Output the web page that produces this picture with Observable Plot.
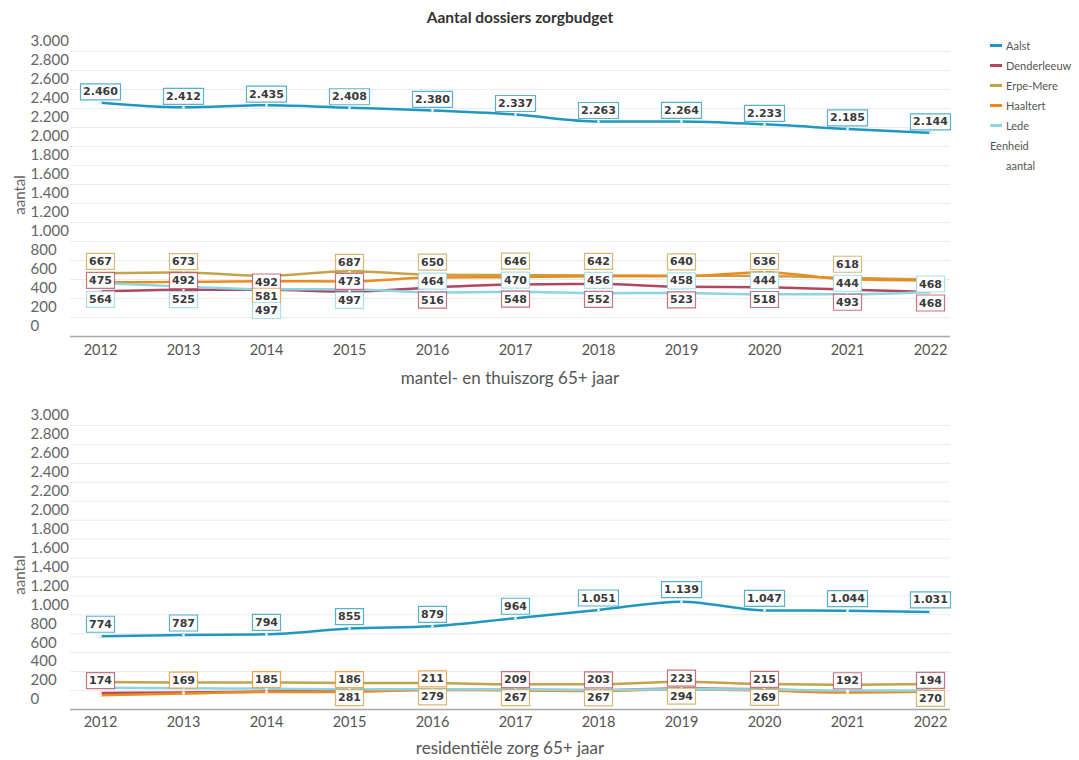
<!DOCTYPE html>
<html>
<head>
<meta charset="utf-8">
<script src="https://cdn.jsdelivr.net/npm/d3@7"></script>
<script src="https://cdn.jsdelivr.net/npm/@observablehq/plot@0.6"></script>
<style>
  body { margin: 0; background: #fff; width: 1079px; height: 760px; position: relative; overflow: hidden; font-family: Lato, "Open Sans", sans-serif; }
  #title { position: absolute; left: 0; width: 1040px; top: 8px; text-align: center; font-weight: bold; font-size: 15.5px; color: #333; }
  .panel { position: absolute; left: 0; }
  #p1 { top: 30px; }
  #p2 { top: 400px; }
  .ylab { position: absolute; font-size: 15px; color: #666; transform: rotate(-90deg); transform-origin: center; width: 60px; text-align: center; }
  .xlab { position: absolute; left: 70px; width: 880px; text-align: center; font-size: 17px; color: #555; }
  #legend { position: absolute; left: 990px; top: 35px; font-size: 11px; color: #555; }
  #legend .it { height: 20px; display: flex; align-items: center; }
  #legend .sw { width: 12px; height: 3px; margin-right: 4px; display: inline-block; }
</style>
</head>
<body>
<div id="title">Aantal dossiers zorgbudget</div>
<div id="p1" class="panel"></div>
<div id="p2" class="panel"></div>
<div class="ylab" style="left:-11px; top:186px;">aantal</div>
<div class="ylab" style="left:-11px; top:566px;">aantal</div>
<div class="xlab" style="top:367px;">mantel- en thuiszorg 65+ jaar</div>
<div class="xlab" style="top:737px;">residentiële zorg 65+ jaar</div>
<div id="legend"></div>
<script>
// ---------- data ----------
const years = [2012, 2013, 2014, 2015, 2016, 2017, 2018, 2019, 2020, 2021, 2022];
const seriesNames = ["Aalst", "Denderleeuw", "Erpe-Mere", "Haaltert", "Lede"];
const seriesColors = ["#1f97bf", "#b3475c", "#c6a24a", "#ec8a20", "#8dd5e5"];
const yTicks = [0, 200, 400, 600, 800, 1000, 1200, 1400, 1600, 1800, 2000, 2200, 2400, 2600, 2800, 3000];

// mantel- en thuiszorg 65+ jaar
const thuisAalst       = [2460, 2412, 2435, 2408, 2380, 2337, 2263, 2264, 2233, 2185, 2144];
const thuisDenderleeuw = [475, 492, 492, 473, 516, 548, 552, 523, 518, 493, 468];
const thuisErpeMere    = [667, 673, 640, 687, 650, 646, 642, 640, 636, 618, 600];
const thuisHaaltert    = [570, 575, 581, 580, 620, 625, 633, 633, 676, 602, 590];
const thuisLede        = [564, 525, 497, 497, 464, 470, 456, 458, 444, 444, 468];

// residentiële zorg 65+ jaar
const resAalst       = [774, 787, 794, 855, 879, 964, 1051, 1139, 1047, 1044, 1031];
const resDenderleeuw = [174, 180, 190, 200, 205, 209, 203, 223, 215, 192, 194];
const resErpeMere    = [290, 285, 285, 281, 279, 267, 267, 294, 269, 262, 270];
const resHaaltert    = [150, 169, 185, 186, 211, 200, 195, 215, 200, 180, 190];
const resLede        = [230, 225, 220, 215, 215, 210, 205, 215, 210, 200, 200];

// which small-series labels are shown (series, year, row in the label stack)
const thuisLabels = [
  ["Erpe-Mere", 2012, 0], ["Denderleeuw", 2012, 1], ["Lede", 2012, 2],
  ["Erpe-Mere", 2013, 0], ["Denderleeuw", 2013, 1], ["Lede", 2013, 2],
  ["Denderleeuw", 2014, 1], ["Haaltert", 2014, 1.75], ["Lede", 2014, 2.5],
  ["Erpe-Mere", 2015, 0], ["Denderleeuw", 2015, 1], ["Lede", 2015, 2],
  ["Erpe-Mere", 2016, 0], ["Lede", 2016, 1], ["Denderleeuw", 2016, 2],
  ["Erpe-Mere", 2017, 0], ["Lede", 2017, 1], ["Denderleeuw", 2017, 2],
  ["Erpe-Mere", 2018, 0], ["Lede", 2018, 1], ["Denderleeuw", 2018, 2],
  ["Erpe-Mere", 2019, 0], ["Lede", 2019, 1], ["Denderleeuw", 2019, 2],
  ["Erpe-Mere", 2020, 0], ["Lede", 2020, 1], ["Denderleeuw", 2020, 2],
  ["Erpe-Mere", 2021, 0], ["Lede", 2021, 1], ["Denderleeuw", 2021, 2],
  ["Lede", 2022, 1], ["Denderleeuw", 2022, 2]
];
const resLabels = [
  ["Denderleeuw", 2012, 0], ["Haaltert", 2013, 0], ["Haaltert", 2014, 0],
  ["Haaltert", 2015, 0], ["Erpe-Mere", 2015, 1],
  ["Haaltert", 2016, 0], ["Erpe-Mere", 2016, 1],
  ["Denderleeuw", 2017, 0], ["Erpe-Mere", 2017, 1],
  ["Denderleeuw", 2018, 0], ["Erpe-Mere", 2018, 1],
  ["Denderleeuw", 2019, 0], ["Erpe-Mere", 2019, 1],
  ["Denderleeuw", 2020, 0], ["Erpe-Mere", 2020, 1],
  ["Denderleeuw", 2021, 0],
  ["Denderleeuw", 2022, 0], ["Erpe-Mere", 2022, 1]
];

// ---------- build ----------
const fmt = d3.formatLocale({decimal: ",", thousands: ".", grouping: [3], currency: ["€", ""]}).format(",");

function toRows(arrs) {
  const rows = [];
  seriesNames.forEach((s, i) => arrs[i].forEach((v, j) => rows.push({series: s, year: years[j], value: v})));
  return rows;
}
const thuisRows = toRows([thuisAalst, thuisDenderleeuw, thuisErpeMere, thuisHaaltert, thuisLede]);
const resRows = toRows([resAalst, resDenderleeuw, resErpeMere, resHaaltert, resLede]);

function rectSymbol(w, h) {
  return {draw(ctx) { ctx.rect(-w / 2, -h / 2, w, h); }};
}

function panel(rows, labels, cfg) {
  const k = (cfg.height - cfg.mt - cfg.mb) / 3000; // px per unit
  const means = d3.rollup(rows.filter(d => d.series !== "Aalst"), v => d3.mean(v, d => d.value), d => d.year);
  const aalst = rows.filter(d => d.series === "Aalst").map(d => ({...d, text: fmt(d.value), ly: d.value + cfg.aalstOffset / k}));
  const small = labels.map(([s, y, row]) => {
    const r = rows.find(d => d.series === s && d.year === y);
    return {...r, text: fmt(r.value), ly: means.get(y) - cfg.rowOffset(row) / k};
  });
  const all = aalst.concat(small);
  const boxMarks = [];
  for (const len of [3, 5]) {
    const sub = all.filter(d => d.text.length === len);
    if (!sub.length) continue;
    const w = len === 3 ? 28 : 40;
    boxMarks.push(Plot.dot(sub, {x: "year", y: "ly", symbol: rectSymbol(w, 16), fill: "white", stroke: "series", strokeWidth: 1.2, strokeOpacity: 0.75}));
  }
  return Plot.plot({
    width: 960, height: cfg.height,
    marginLeft: 70, marginRight: 10, marginTop: cfg.mt, marginBottom: cfg.mb,
    insetLeft: 30, insetRight: 20,
    x: {domain: [2012, 2022]},
    y: {domain: [0, 3000]},
    color: {domain: seriesNames, range: seriesColors},
    style: {fontFamily: "Lato, 'Open Sans', sans-serif", color: "#666", background: "white"},
    marks: [
      Plot.gridY(yTicks, {stroke: "#ebebeb", strokeOpacity: 1}),
      Plot.axisY(yTicks, {tickSize: 0, tickPadding: 0, textAnchor: "start", dx: -40, dy: -10, tickFormat: fmt, fontSize: 15, fill: "#666", label: null}),
      Plot.axisX(years, {tickSize: 0, tickPadding: cfg.tp, tickFormat: d => String(d), fontSize: 14.5, fill: "#555", label: null}),
      Plot.ruleY([0], {stroke: "#a8a8a8", strokeWidth: 1.5}),
      Plot.line(rows, {x: "year", y: "value", z: "series", stroke: "series", strokeWidth: 2.5, curve: "monotone-x"}),
      Plot.dot(rows, {x: "year", y: "value", r: 1.3, fill: "white"}),
      ...boxMarks,
      Plot.text(all, {x: "year", y: "ly", text: "text", fontFamily: "DejaVu Sans", fontWeight: "bold", fontSize: 11, fill: "#3a3a3a"})
    ]
  });
}

document.getElementById("p1").append(panel(thuisRows, thuisLabels, {
  height: 370, mt: 21, mb: 64, tp: 8, aalstOffset: 11,
  rowOffset: r => (r - 1) * 19 - 2
}));
document.getElementById("p2").append(panel(resRows, resLabels, {
  height: 360, mt: 25, mb: 51, tp: 7, aalstOffset: 12,
  rowOffset: r => r * 18 - 9
}));

// legend
const lg = document.getElementById("legend");
seriesNames.forEach((s, i) => {
  const it = document.createElement("div");
  it.className = "it";
  it.innerHTML = `<span class="sw" style="background:${seriesColors[i]}"></span>${s}`;
  lg.append(it);
});
const e1 = document.createElement("div"); e1.className = "it"; e1.textContent = "Eenheid"; lg.append(e1);
const e2 = document.createElement("div"); e2.className = "it"; e2.style.paddingLeft = "16px"; e2.textContent = "aantal"; lg.append(e2);
</script>
</body>
</html>
